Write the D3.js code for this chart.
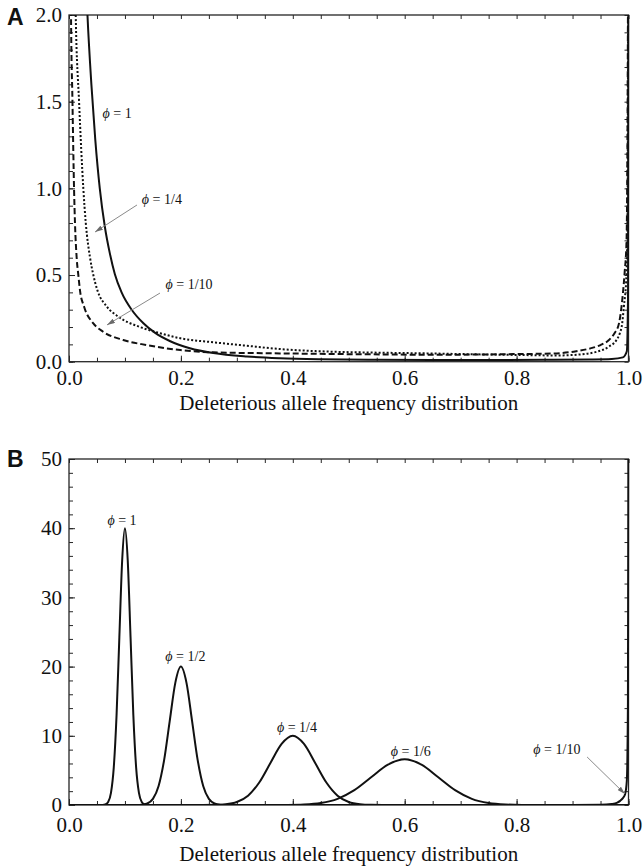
<!DOCTYPE html>
<html>
<head>
<meta charset="utf-8">
<script src="https://cdn.jsdelivr.net/npm/d3@7"></script>
<style>
  html, body { margin: 0; padding: 0; background: #fff; }
  svg { display: block; }
</style>
</head>
<body>
<svg id="chart" width="643" height="868"></svg>
<script>
// ---- tick values and labels ----
const xTickValues = [0, 0.2, 0.4, 0.6, 0.8, 1.0];
const xTickLabels = ["0.0", "0.2", "0.4", "0.6", "0.8", "1.0"];
const aYTickValues = [0, 0.5, 1.0, 1.5, 2.0];
const aYTickLabels = ["0.0", "0.5", "1.0", "1.5", "2.0"];
const bYTickValues = [0, 10, 20, 30, 40, 50];
const bYTickLabels = ["0", "10", "20", "30", "40", "50"];
const axisTitle = "Deleterious allele frequency distribution";

// ---- panel A: U-shaped frequency densities [frequency, density] ----
const aPhi1 = [
  [0.026, 2.6], [0.033, 2.0], [0.040, 1.6], [0.047, 1.28], [0.055, 1.0], [0.064, 0.78],
  [0.073, 0.625], [0.082, 0.505], [0.094, 0.40], [0.112, 0.30], [0.133, 0.222],
  [0.154, 0.166], [0.181, 0.118], [0.216, 0.078], [0.258, 0.05], [0.318, 0.03],
  [0.377, 0.02], [0.45, 0.014], [0.55, 0.011], [0.65, 0.01], [0.75, 0.01],
  [0.85, 0.011], [0.93, 0.013], [0.97, 0.016], [0.99, 0.025], [0.997, 0.06],
  [0.9992, 0.4], [1.0, 3.0]
];
const aPhi4 = [
  [0.009, 2.6], [0.012, 2.0], [0.018, 1.5], [0.0256, 1.0], [0.030, 0.8], [0.0376, 0.6],
  [0.0435, 0.5], [0.051, 0.41], [0.067, 0.32], [0.088, 0.26], [0.127, 0.2],
  [0.163, 0.164], [0.199, 0.135], [0.258, 0.112], [0.318, 0.092], [0.377, 0.073],
  [0.467, 0.058], [0.556, 0.052], [0.64, 0.048], [0.72, 0.043], [0.80, 0.039],
  [0.87, 0.036], [0.902, 0.039], [0.944, 0.058], [0.965, 0.087], [0.9785, 0.125],
  [0.9845, 0.164], [0.9887, 0.221], [0.9917, 0.317], [0.9965, 0.51], [0.9985, 1.0],
  [0.9995, 2.5]
];
const aPhi10 = [
  [0.0025, 2.6], [0.0036, 2.0], [0.0062, 1.5], [0.009, 1.0], [0.0107, 0.8], [0.0137, 0.6],
  [0.0167, 0.5], [0.0197, 0.41], [0.027, 0.317], [0.0435, 0.221], [0.061, 0.173],
  [0.097, 0.125], [0.139, 0.096], [0.199, 0.067], [0.258, 0.054], [0.377, 0.048],
  [0.556, 0.042], [0.64, 0.04], [0.72, 0.041], [0.80, 0.044], [0.872, 0.048],
  [0.902, 0.058], [0.932, 0.077], [0.950, 0.096], [0.965, 0.125], [0.975, 0.164],
  [0.983, 0.221], [0.9875, 0.317], [0.990, 0.394], [0.993, 0.51], [0.9965, 0.7],
  [0.998, 1.2], [0.9995, 2.5]
];

// ---- panel B: peaked frequency densities [frequency, density] ----
const bPhi1 = [
  [0.0, 0], [0.055, 0], [0.06, 0.01], [0.065, 0.09], [0.07, 0.44], [0.075, 1.76],
  [0.08, 5.41], [0.085, 12.99], [0.09, 24.26], [0.095, 35.3], [0.1, 40],
  [0.105, 35.3], [0.11, 24.26], [0.115, 12.99], [0.12, 5.41], [0.125, 1.76],
  [0.13, 0.44], [0.135, 0.09], [0.14, 0.01], [0.145, 0], [1.0, 0]
];
const bPhi2 = [
  [0.0, 0], [0.11, 0], [0.12, 0.007], [0.13, 0.04], [0.14, 0.22], [0.15, 0.88],
  [0.16, 2.71], [0.17, 6.49], [0.18, 12.13], [0.19, 17.65], [0.2, 20],
  [0.21, 17.65], [0.22, 12.13], [0.23, 6.49], [0.24, 2.71], [0.25, 0.88],
  [0.26, 0.22], [0.27, 0.04], [0.28, 0.007], [0.29, 0], [1.0, 0]
];
const bPhi4 = [
  [0.0, 0], [0.22, 0], [0.24, 0.003], [0.26, 0.02], [0.28, 0.11], [0.30, 0.44],
  [0.32, 1.35], [0.34, 3.25], [0.36, 6.07], [0.38, 8.82], [0.40, 10],
  [0.42, 8.82], [0.44, 6.07], [0.46, 3.25], [0.48, 1.35], [0.50, 0.44],
  [0.52, 0.11], [0.54, 0.02], [0.56, 0.003], [0.58, 0], [1.0, 0]
];
const bPhi6 = [
  [0.0, 0], [0.33, 0], [0.36, 0.002], [0.39, 0.014], [0.42, 0.073], [0.45, 0.29],
  [0.48, 0.89], [0.51, 2.14], [0.54, 4.0], [0.57, 5.82], [0.60, 6.6],
  [0.63, 5.82], [0.66, 4.0], [0.69, 2.14], [0.72, 0.89], [0.75, 0.29],
  [0.78, 0.073], [0.81, 0.014], [0.84, 0.002], [0.87, 0], [1.0, 0]
];
const bPhi10 = [
  [0.0, 0], [0.9, 0], [0.95, 0.03], [0.97, 0.15], [0.98, 0.35], [0.985, 0.6],
  [0.99, 1.0], [0.994, 1.6], [0.997, 3.5], [0.999, 15], [1.0, 60]
];

// ---- annotations (data coordinates) ----
const aLabels = [
  { text: "1", x: 0.086, y: 1.435 },
  { text: "1/4", x: 0.166, y: 0.94 },
  { text: "1/10", x: 0.2145, y: 0.448 }
];
const aArrows = [
  { from: [0.1215, 0.904], to: [0.0465, 0.748] },
  { from: [0.1626, 0.396], to: [0.0679, 0.212] }
];
const bLabels = [
  { text: "1", x: 0.0947, y: 41.2 },
  { text: "1/2", x: 0.208, y: 21.5 },
  { text: "1/4", x: 0.4075, y: 11.2 },
  { text: "1/6", x: 0.611, y: 7.8 },
  { text: "1/10", x: 0.872, y: 8.1 }
];
const bArrows = [
  { from: [0.926, 6.94], to: [0.9937, 1.59] }
];

// ---- drawing ----
const svg = d3.select("#chart");
const serif = "'Liberation Serif', 'Times New Roman', Times, serif";
const frameColor = "#262626";
const plotLeft = 69, plotRight = 628.5;

const defs = svg.append("defs");
defs.append("marker")
  .attr("id", "arrowhead")
  .attr("viewBox", "0 0 10 6")
  .attr("refX", 10).attr("refY", 3)
  .attr("markerWidth", 8).attr("markerHeight", 5)
  .attr("markerUnits", "userSpaceOnUse")
  .attr("orient", "auto")
  .append("path").attr("d", "M0,0 L10,3 L0,6 Z").attr("fill", "#6a6a6a");

function drawPanel(cfg) {
  const x = d3.scaleLinear().domain([0, 1]).range([plotLeft, plotRight]);
  const y = d3.scaleLinear().domain(cfg.yDomain).range([cfg.bottom, cfg.top]);
  const g = svg.append("g");

  const clipId = "clip-" + cfg.letter;
  defs.append("clipPath").attr("id", clipId)
    .append("rect")
    .attr("x", plotLeft).attr("y", cfg.top)
    .attr("width", plotRight - plotLeft + 1).attr("height", cfg.bottom - cfg.top);

  const xMinor = d3.range(0, 1.0001, 0.05);
  const yMinor = d3.range(cfg.yDomain[0], cfg.yDomain[1] + 1e-9, cfg.yMinorStep);

  function styleAxis(sel) {
    sel.select(".domain").remove();
    sel.attr("font-family", null).attr("font-size", null);
    sel.selectAll(".tick line").attr("stroke", frameColor).attr("stroke-width", 1);
    sel.selectAll(".tick text")
      .attr("font-family", serif).attr("font-size", 21).attr("fill", "#111");
  }

  // minor ticks on all four sides, pointing inward
  g.append("g").attr("transform", `translate(0,${cfg.bottom})`)
    .call(d3.axisBottom(x).tickValues(xMinor).tickSize(-4).tickFormat("")).call(styleAxis);
  g.append("g").attr("transform", `translate(0,${cfg.top})`)
    .call(d3.axisTop(x).tickValues(xMinor).tickSize(-4).tickFormat("")).call(styleAxis);
  g.append("g").attr("transform", `translate(${plotLeft},0)`)
    .call(d3.axisLeft(y).tickValues(yMinor).tickSize(-4).tickFormat("")).call(styleAxis);
  g.append("g").attr("transform", `translate(${plotRight},0)`)
    .call(d3.axisRight(y).tickValues(yMinor).tickSize(-4).tickFormat("")).call(styleAxis);

  // labelled ticks
  g.append("g").attr("transform", `translate(0,${cfg.bottom})`)
    .call(d3.axisBottom(x).tickValues(xTickValues).tickSize(-6).tickPadding(cfg.xPad)
      .tickFormat((d, i) => xTickLabels[i])).call(styleAxis);
  g.append("g").attr("transform", `translate(${plotLeft},0)`)
    .call(d3.axisLeft(y).tickValues(cfg.yTicks).tickSize(-6).tickPadding(7)
      .tickFormat((d, i) => cfg.yLabels[i])).call(styleAxis);

  // frame
  g.append("rect")
    .attr("x", plotLeft).attr("y", cfg.top)
    .attr("width", plotRight - plotLeft).attr("height", cfg.bottom - cfg.top)
    .attr("fill", "none").attr("stroke", frameColor).attr("stroke-width", 1.3);

  // curves
  const line = d3.line().x(d => x(d[0])).y(d => y(d[1])).curve(d3.curveMonotoneX);
  const curves = g.append("g").attr("clip-path", `url(#${clipId})`);
  cfg.series.forEach(s => {
    curves.append("path")
      .attr("d", line(s.data))
      .attr("fill", "none")
      .attr("stroke", "#111")
      .attr("stroke-width", 2)
      .attr("stroke-dasharray", s.dash || null);
  });

  // arrows
  cfg.arrows.forEach(a => {
    g.append("line")
      .attr("x1", x(a.from[0])).attr("y1", y(a.from[1]))
      .attr("x2", x(a.to[0])).attr("y2", y(a.to[1]))
      .attr("stroke", "#8a8a8a").attr("stroke-width", 1)
      .attr("marker-end", "url(#arrowhead)");
  });

  // curve labels
  cfg.labels.forEach(l => {
    const t = g.append("text")
      .attr("x", x(l.x)).attr("y", y(l.y))
      .attr("dy", "0.35em")
      .attr("text-anchor", "middle")
      .attr("font-family", serif).attr("font-size", 14).attr("fill", "#111");
    t.append("tspan").attr("font-style", "italic").text("\u03D5");
    t.append("tspan").text(" = " + l.text);
  });

  // axis title
  g.append("text")
    .attr("x", (plotLeft + plotRight) / 2).attr("y", cfg.titleY)
    .attr("text-anchor", "middle")
    .attr("font-family", serif).attr("font-size", 21).attr("fill", "#111")
    .text(axisTitle);

  // panel letter
  g.append("text")
    .attr("x", 7).attr("y", cfg.letterY)
    .attr("font-family", "'Liberation Sans', Arial, sans-serif")
    .attr("font-weight", "bold").attr("font-size", 23).attr("fill", "#111")
    .text(cfg.letter);
}

drawPanel({
  letter: "A", letterY: 25,
  top: 15, bottom: 361.7, yDomain: [0, 2], yMinorStep: 0.1,
  yTicks: aYTickValues, yLabels: aYTickLabels,
  xPad: 8, titleY: 410,
  series: [
    { data: aPhi10, dash: "6,3" },
    { data: aPhi4, dash: "2,2" },
    { data: aPhi1 }
  ],
  labels: aLabels, arrows: aArrows
});

drawPanel({
  letter: "B", letterY: 467,
  top: 459, bottom: 805, yDomain: [0, 50], yMinorStep: 2,
  yTicks: bYTickValues, yLabels: bYTickLabels,
  xPad: 12, titleY: 861,
  series: [
    { data: bPhi10 }, { data: bPhi6 }, { data: bPhi4 }, { data: bPhi2 }, { data: bPhi1 }
  ],
  labels: bLabels, arrows: bArrows
});
</script>
</body>
</html>
